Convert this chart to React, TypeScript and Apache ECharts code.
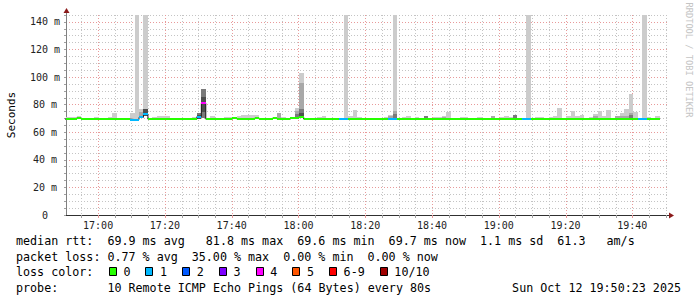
import React, { useEffect, useRef } from "react";
import * as echarts from "echarts";

// time axis in seconds of the day
const X_MIN = 60623; // 16:50:23
const X_MAX = 71423; // 19:50:23
const STEP_SECONDS = 80;
const FIRST_STEP_START = 60575;
const Y_MAX = 145;

// median rtt per 80 s step (ms)
const MEDIAN_MS: (number | null)[] = [
  69.5, 69.5, 69.5, 70.3, 69.5, 69.5, 69.5, 69.5, 69.5, 69.5,
  69.5, 69.5, 69.5, 69.5, 69.5, 69.2, 69.2, 70.8, 73.1, 69.5,
  69.5, 69.5, 69.5, 69.5, 69.5, 69.5, 69.5, 69.5, 69.5, 69.5,
  71.3, 81.0, 69.5, 69.5, 69.5, 69.5, 69.5, 69.5, 70.3, 69.5,
  69.5, 69.5, 69.5, 70.3, 69.5, 69.5, 69.5, 70.3, 69.5, 69.5,
  69.5, 70.3, 70.6, 71.0, 69.5, 69.5, 69.5, 69.5, 69.5, 69.5,
  69.5, 69.5, 69.5, 69.5, 69.5, 69.5, 69.5, 69.5, 69.5, 69.5,
  69.5, 69.5, 69.5, 69.5, 69.5, 69.5, 69.5, 69.5, 69.5, 69.5,
  69.5, 69.5, 69.5, 69.5, 69.5, 69.5, 69.5, 69.5, 69.5, 69.5,
  69.5, 69.5, 69.5, 69.5, 69.5, 69.5, 69.5, 69.5, 69.5, 69.5,
  69.5, 69.5, 69.5, 69.5, 69.5, 69.5, 69.5, 69.5, 69.5, 69.5,
  69.5, 69.5, 69.5, 69.5, 69.5, 69.5, 69.5, 69.5, 69.5, 69.5,
  69.5, 69.5, 69.5, 69.5, 69.5, 69.5, 69.5, 69.5, 69.5, 69.5,
  69.5, 69.5, 69.5, 69.5, null, null,
];

// lost pings (of 10) per step
const LOSS: (number | null)[] = [
  0, 0, 0, 0, 0, 0, 0, 0, 0, 0,
  0, 0, 0, 0, 0, 1, 1, 1, 1, 0,
  0, 0, 0, 0, 0, 0, 0, 0, 0, 0,
  1, 4, 0, 0, 0, 0, 0, 0, 0, 0,
  0, 0, 0, 0, 0, 0, 0, 0, 0, 0,
  0, 0, 0, 0, 0, 0, 0, 0, 0, 0,
  0, 0, 1, 1, 0, 0, 0, 0, 0, 0,
  0, 0, 0, 1, 1, 0, 0, 0, 0, 0,
  0, 0, 0, 0, 0, 0, 0, 0, 0, 0,
  0, 0, 0, 0, 0, 0, 0, 0, 0, 0,
  0, 0, 0, 1, 1, 0, 0, 0, 0, 0,
  0, 0, 0, 0, 0, 0, 0, 0, 0, 0,
  0, 0, 0, 0, 0, 0, 0, 0, 0, 1,
  1, 0, 0, 0, null, null,
];

// smoke bands: [step, low ms, high ms]
const SMOKE_LIGHT: [number, number, number][] = [
  [0, 69.5, 71.05], [1, 69.5, 71.05], [2, 69.5, 71.05], [3, 70.3, 71.8],
  [7, 69.5, 71.05], [10, 69.5, 71.05], [11, 69.5, 74.2], [15, 69.2, 74.0],
  [16, 69.2, 145], [17, 70.8, 76.9], [18, 73.1, 145], [20, 69.5, 71.05],
  [21, 69.5, 71.8], [22, 69.5, 71.8], [23, 69.5, 71.8], [29, 69.5, 71.05],
  [33, 69.5, 72.0], [36, 69.5, 71.05], [37, 69.5, 71.05], [39, 69.5, 71.5],
  [40, 69.5, 72.7], [41, 69.5, 72.7], [42, 69.5, 72.7], [43, 70.3, 72.7],
  [48, 69.5, 74.0], [49, 69.5, 71.05], [52, 70.6, 77.8], [53, 71.0, 103.2],
  [57, 69.5, 71.05], [58, 69.5, 71.8], [63, 69.5, 145], [64, 69.5, 71.8],
  [65, 69.5, 76.2], [66, 69.5, 71.05], [72, 69.5, 71.05], [73, 69.5, 72.5],
  [74, 69.5, 145], [76, 69.5, 71.05], [77, 69.5, 71.8], [79, 69.5, 71.05],
  [83, 69.5, 71.05], [84, 69.5, 71.05], [85, 69.5, 71.5], [86, 69.5, 74.7],
  [89, 69.5, 71.05], [90, 69.5, 71.05], [93, 69.5, 71.05], [96, 69.5, 71.8],
  [98, 69.5, 71.05], [99, 69.5, 71.8], [100, 69.5, 71.05], [104, 69.5, 145],
  [106, 69.5, 71.05], [107, 69.5, 71.05], [109, 69.5, 71.05], [110, 69.5, 71.8],
  [111, 69.5, 77.6], [113, 69.5, 72.0], [114, 69.5, 75.6], [115, 69.5, 71.8],
  [116, 69.5, 72.7], [118, 69.5, 71.05], [119, 69.5, 73.0], [120, 69.5, 75.6],
  [121, 69.5, 71.8], [122, 69.5, 76.1], [124, 69.5, 71.8], [125, 69.5, 74.0],
  [126, 69.5, 76.9], [127, 69.5, 87.7], [128, 69.5, 74.5], [130, 69.5, 145],
  [131, 69.5, 71.05], [133, 69.5, 71.8],
];
const SMOKE_MID: [number, number, number][] = [
  [17, 70.8, 74.5], [48, 69.5, 74.0], [52, 70.6, 75.4], [53, 71.0, 95.9],
  [73, 69.5, 71.8], [74, 69.5, 75.4], [85, 69.5, 71.2], [96, 69.5, 71.8],
  [119, 69.5, 71.8], [124, 69.5, 71.8], [125, 69.5, 71.8], [126, 69.5, 71.8],
  [127, 69.5, 74.0],
];
const SMOKE_DARK: [number, number, number][] = [
  [30, 70.0, 74.2], [31, 70.5, 91.4], [52, 70.6, 73.0], [53, 71.0, 76.9],
  [74, 69.5, 73.0], [81, 69.5, 71.8], [101, 69.5, 72.7], [127, 69.5, 72.5],
];
const SMOKE_DARKER: [number, number, number][] = [
  [18, 72.0, 76.6], [30, 69.5, 72.8], [31, 74.5, 85.8], [53, 71.0, 73.7],
];

const LOSS_COLORS = ["#26ff00", "#00b8ff", "#0059ff", "#7e00ff", "#ff00ff", "#ff5500",
  "#ff0000", "#ff0000", "#ff0000", "#ff0000", "#a00000"];
const LEGEND_LABELS = ["0", "1", "2", "3", "4", "5", "6-9", "10/10"];
const LEGEND_COLORS = ["#26ff00", "#00b8ff", "#0059ff", "#7e00ff", "#ff00ff", "#ff5500", "#ff0000", "#a00000"];

const X_LABEL_TIMES = [61200, 62400, 63600, 64800, 66000, 67200, 68400, 69600, 70800];
const X_LABELS = ["17:00", "17:20", "17:40", "18:00", "18:20", "18:40", "19:00", "19:20", "19:40"];
const X_GRID_STEP = 300;
const X_MAJOR_STEP = 1200;

const ROW_RTT: [number, string][] = [
  [0, "median rtt:"], [13, "69.9 ms avg"], [27, "81.8 ms max"], [40, "69.6 ms min"],
  [53, "69.7 ms now"], [66, "1.1 ms sd"], [77, "61.3"], [84, "am/s"],
];
const ROW_LOSS: [number, string][] = [
  [0, "packet loss:"], [13, "0.77 % avg"], [25, "35.00 % max"], [38, "0.00 % min"], [50, "0.00 % now"],
];
const ROW_PROBE: [number, string][] = [
  [0, "probe:"], [13, "10 Remote ICMP Echo Pings (64 Bytes) every 80s"],
];
const DATE_TEXT = "Sun Oct 12 19:50:23 2025";

const MONO = '"DejaVu Sans Mono", monospace';
const GRID_MINOR = "#c4c4c4";
const GRID_MAJOR = "#e89a9a";

function stepStart(j: number) {
  return FIRST_STEP_START + j * STEP_SECONDS;
}

function bandData(list: [number, number, number][]) {
  return list.map(([j, lo, hi]) => [stepStart(j), stepStart(j + 1), lo, hi]);
}

function bandSeries(name: string, list: [number, number, number][], color: string, z: number) {
  return {
    type: "custom",
    name,
    z,
    clip: true,
    silent: true,
    data: bandData(list),
    encode: { x: [0, 1], y: [2, 3] },
    renderItem: (_p: any, api: any) => {
      const a = api.coord([api.value(0), api.value(3)]);
      const b = api.coord([api.value(1), api.value(2)]);
      const x0 = Math.round(a[0]);
      const x1 = Math.round(b[0]);
      const y0 = Math.round(a[1]);
      const y1 = Math.round(b[1]);
      return {
        type: "rect",
        shape: { x: x0, y: y0, width: x1 - x0, height: Math.max(1, y1 - y0) },
        style: { fill: color },
      };
    },
  };
}

export default function App() {
  const ref = useRef<HTMLDivElement>(null);

  useEffect(() => {
    if (!ref.current) return;
    const chart = echarts.init(ref.current, undefined, { renderer: "svg" });

    const stripeData: number[][] = [];
    const lineData: (number | null)[][] = [];
    MEDIAN_MS.forEach((m, j) => {
      lineData.push([stepStart(j), m]);
      if (m != null) stripeData.push([stepStart(j), stepStart(j + 1), m, LOSS[j] as number]);
    });

    const gridTimes: number[] = [];
    for (let t = Math.ceil(X_MIN / X_GRID_STEP) * X_GRID_STEP; t <= X_MAX; t += X_GRID_STEP) gridTimes.push(t);

    const swidth = Y_MAX / 200;
    const legendY = [241.3, 256.8, 272.3, 287.8];
    const cw = 7.03;
    const x0 = 16;
    const textEl = (col: number, text: string, y: number) => ({
      type: "text",
      x: x0 + col * cw,
      y,
      style: { text, font: `11.7px ${MONO}`, fill: "#000", align: "left", verticalAlign: "middle" },
    });

    const graphics: any[] = [];
    ROW_RTT.forEach(([c, t]) => graphics.push(textEl(c, t, legendY[0])));
    ROW_LOSS.forEach(([c, t]) => graphics.push(textEl(c, t, legendY[1])));
    graphics.push(textEl(0, "loss color:", legendY[2]));
    let bx = 108.7;
    LEGEND_LABELS.forEach((lab, i) => {
      graphics.push({
        type: "rect",
        shape: { x: Math.round(bx) + 0.5, y: Math.round(legendY[2]) - 4.5, width: 7, height: 8 },
        style: { fill: LEGEND_COLORS[i], stroke: "#000", lineWidth: 1 },
      });
      graphics.push({
        type: "text",
        x: bx + 14.7,
        y: legendY[2],
        style: { text: lab, font: `11.7px ${MONO}`, fill: "#000", align: "left", verticalAlign: "middle" },
      });
      bx += 36.7 + (lab.length - 1) * cw;
    });
    ROW_PROBE.forEach(([c, t]) => graphics.push(textEl(c, t, legendY[3])));
    graphics.push({
      type: "text",
      x: 681,
      y: legendY[3],
      style: { text: DATE_TEXT, font: `11.7px ${MONO}`, fill: "#000", align: "right", verticalAlign: "middle" },
    });
    graphics.push({
      type: "text",
      x: 11,
      y: 115,
      rotation: Math.PI / 2,
      style: { text: "Seconds", font: `11px ${MONO}`, fill: "#000", align: "center", verticalAlign: "middle" },
    });
    graphics.push({
      type: "text",
      x: 688.5,
      y: 60,
      rotation: -Math.PI / 2,
      style: { text: "RRDTOOL / TOBI OETIKER", font: `8.7px ${MONO}`, fill: "#c4c4c4", align: "center", verticalAlign: "middle" },
    });
    // axis extensions and arrows
    graphics.push({ type: "line", shape: { x1: 66.5, y1: 15, x2: 66.5, y2: 11 }, style: { stroke: "#808080", lineWidth: 1 } });
    graphics.push({ type: "polygon", shape: { points: [[63.5, 13], [66.5, 8], [69.5, 13]] }, style: { fill: "#8b1a1a" } });
    graphics.push({ type: "line", shape: { x1: 667, y1: 215.5, x2: 669, y2: 215.5 }, style: { stroke: "#303030", lineWidth: 1 } });
    graphics.push({ type: "polygon", shape: { points: [[669, 212.5], [674, 215.5], [669, 218.5]] }, style: { fill: "#8b1a1a" } });

    const option: any = {
      animation: false,
      backgroundColor: "#ffffff",
      grid: { left: 66, top: 15, width: 601, height: 200, containLabel: false },
      xAxis: {
        type: "value",
        min: X_MIN,
        max: X_MAX,
        axisLine: { show: true, lineStyle: { color: "#303030", width: 1 } },
        axisTick: { show: false },
        axisLabel: { show: false },
        splitLine: { show: false },
      },
      yAxis: {
        type: "value",
        min: 0,
        max: Y_MAX,
        interval: 5,
        axisLine: { show: true, lineStyle: { color: "#808080", width: 1 } },
        axisTick: { show: true, length: 2, lineStyle: { color: "#a0a0a0" } },
        axisLabel: {
          margin: 21,
          align: "center",
          fontFamily: MONO,
          fontSize: 10,
          color: "#222",
          formatter: (v: number) => (v % 20 === 0 ? (v === 0 ? "0" : `${v} m`) : ""),
        },
        splitLine: {
          show: true,
          lineStyle: { color: [GRID_MAJOR, GRID_MINOR, GRID_MINOR, GRID_MINOR], type: [1, 2], width: 1 },
        },
      },
      graphic: graphics,
      series: [
        {
          type: "custom",
          name: "xgrid",
          z: 1,
          silent: true,
          data: gridTimes.map((t) => [t]),
          encode: { x: 0 },
          renderItem: (_p: any, api: any) => {
            const t = api.value(0);
            const top = api.coord([t, Y_MAX]);
            const bot = api.coord([t, 0]);
            const x = Math.round(top[0]) + 0.5;
            const major = t % X_MAJOR_STEP === 0;
            return {
              type: "group",
              children: [
                {
                  type: "line",
                  shape: { x1: x, y1: top[1], x2: x, y2: bot[1] },
                  style: { stroke: major ? GRID_MAJOR : GRID_MINOR, lineWidth: 1, lineDash: [1, 2] },
                },
                {
                  type: "line",
                  shape: { x1: x, y1: bot[1], x2: x, y2: bot[1] + 3 },
                  style: { stroke: major ? GRID_MAJOR : "#a0a0a0", lineWidth: 1 },
                },
              ],
            };
          },
        },
        {
          type: "custom",
          name: "xlabels",
          z: 1,
          silent: true,
          data: X_LABEL_TIMES.map((t, i) => [t, i]),
          encode: { x: 0 },
          renderItem: (_p: any, api: any) => {
            const p = api.coord([api.value(0), 0]);
            return {
              type: "text",
              x: p[0],
              y: p[1] + 10,
              style: {
                text: X_LABELS[api.value(1)],
                font: `10px ${MONO}`,
                fill: "#222",
                align: "center",
                verticalAlign: "middle",
              },
            };
          },
        },
        bandSeries("smoke-light", SMOKE_LIGHT, "#cccccc", 2),
        bandSeries("smoke-mid", SMOKE_MID, "#a8a8a8", 3),
        bandSeries("smoke-dark", SMOKE_DARK, "#7a7a7a", 4),
        bandSeries("smoke-darker", SMOKE_DARKER, "#4e4e4e", 5),
        {
          type: "line",
          name: "median",
          z: 6,
          step: "end",
          silent: true,
          showSymbol: false,
          symbol: "none",
          connectNulls: false,
          data: lineData,
          lineStyle: { color: "#202020", width: 1 },
        },
        {
          type: "custom",
          name: "median-loss",
          z: 7,
          clip: true,
          silent: true,
          data: stripeData,
          encode: { x: [0, 1], y: 2 },
          renderItem: (_p: any, api: any) => {
            const m = api.value(2);
            const a = api.coord([api.value(0), m + swidth]);
            const b = api.coord([api.value(1), m - swidth]);
            const xa = Math.round(a[0]);
            const xb = Math.round(b[0]);
            const ya = Math.round(a[1]);
            const yb = Math.round(b[1]);
            return {
              type: "rect",
              shape: { x: xa, y: ya, width: xb - xa, height: yb - ya },
              style: { fill: LOSS_COLORS[api.value(3)] },
            };
          },
        },
      ],
    };

    chart.setOption(option);
    return () => chart.dispose();
  }, []);

  return (
    <div
      ref={ref}
      style={{ position: "absolute", left: 0, top: 0, width: 697, height: 297, background: "#fff" }}
    />
  );
}
